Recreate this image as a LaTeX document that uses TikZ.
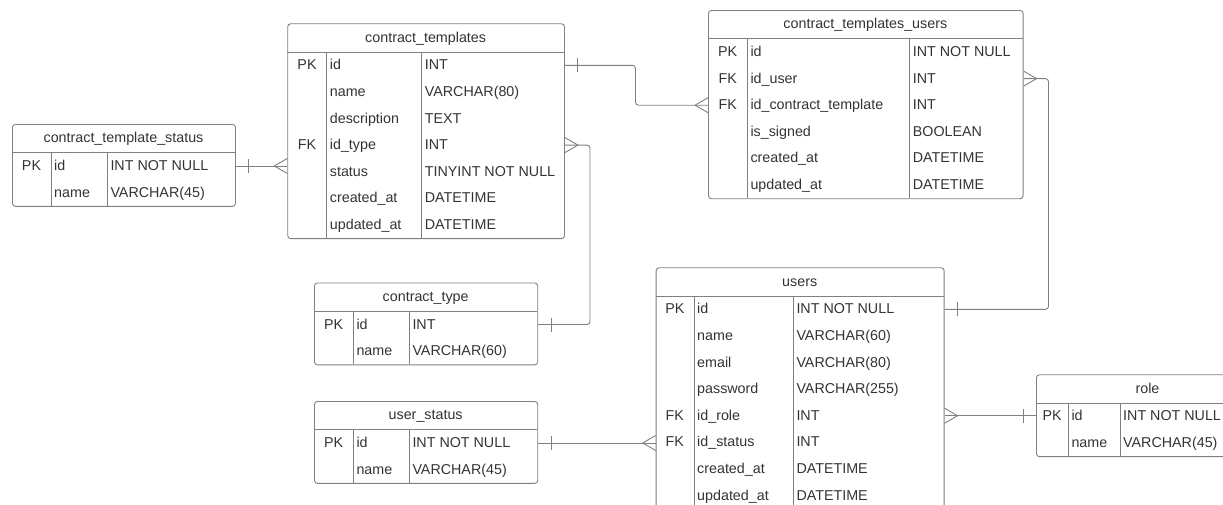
\documentclass[tikz,border=0pt]{standalone}
\usepackage{fontspec}
\setmainfont{Liberation Sans}
\usetikzlibrary{calc}
\definecolor{ln}{HTML}{808080}
\definecolor{tx}{HTML}{333333}
\tikzset{
  tbl/.style={draw=ln, line width=0.9pt, rounded corners=3pt, inner sep=0pt, anchor=north west},
  sep/.style={draw=ln, line width=0.9pt},
  conn/.style={draw=ln, line width=0.9pt},
  txt/.style={text=tx, inner sep=0pt, font=\fontsize{14.3}{16}\selectfont},
}
% #1 name, #2 left, #3 top, #4 right, #5 col1, #6 col2, #7 title, #8 rows, #9 number of rows
\newcommand{\erdtable}[9]{%
  \node[tbl, minimum width={(#4-(#2))*1pt}, minimum height={(28.7+#9*26.6)*1pt}] (#1) at (#2,#3) {};
  \draw[sep] (#2,{#3+28.7}) -- (#4,{#3+28.7});
  \draw[sep] (#5,{#3+28.7}) -- (#5,{#3+28.7+#9*26.6});
  \draw[sep] (#6,{#3+28.7}) -- (#6,{#3+28.7+#9*26.6});
  \node[txt, anchor=base] (#1-title) at ({(#2+#4)/2},{#3+14.35+4.5}) {#7};
  \foreach \k/\f/\t [count=\i] in {#8} {
    \coordinate (#1-r\i) at (#2,{#3+28.7+(\i-0.5)*26.6});
    \node[txt, anchor=base] (#1-k\i) at ({(#2+#5)/2},{#3+28.7+(\i-0.5)*26.6+4.5}) {\k};
    \node[txt, anchor=base west] (#1-f\i) at ({#5+3},{#3+28.7+(\i-0.5)*26.6+4.5}) {\f};
    \node[txt, anchor=base west] (#1-t\i) at ({#6+3},{#3+28.7+(\i-0.5)*26.6+4.5}) {\t};
  }
}
\newcommand{\barmark}[2]{\draw[conn] ($(#1)+(#2,-7)$) -- ($(#1)+(#2,7)$);}
\newcommand{\crowmark}[2]{\draw[conn] ($(#1)+(0,-7.5)$) -- ($(#1)+(#2,0)$) -- ($(#1)+(0,7.5)$);}
\begin{document}
\begin{tikzpicture}[x=1pt,y=-1pt]
\useasboundingbox (0,0) rectangle (1223,504);
\clip (0,0) rectangle (1223,504);
\fill[white] (0,0) rectangle (1223,504);

\erdtable{cts}{12}{124}{235}{51}{107.3}{contract\_template\_status}
  {PK/id/{INT NOT NULL}, {}/name/{VARCHAR(45)}}{2}

\erdtable{ct}{287.3}{23.3}{564}{326.7}{421.7}{contract\_templates}
  {PK/id/INT, {}/name/{VARCHAR(80)}, {}/description/TEXT, FK/id\_type/INT,
   {}/status/{TINYINT NOT NULL}, {}/created\_at/DATETIME, {}/updated\_at/DATETIME}{7}

\erdtable{ctu}{708}{10}{1022.7}{747.3}{909.7}{contract\_templates\_users}
  {PK/id/{INT NOT NULL}, FK/id\_user/INT, FK/id\_contract\_template/INT,
   {}/is\_signed/BOOLEAN, {}/created\_at/DATETIME, {}/updated\_at/DATETIME}{6}

\erdtable{ctype}{314}{282.5}{537.3}{353.3}{409.3}{contract\_type}
  {PK/id/INT, {}/name/{VARCHAR(60)}}{2}

\erdtable{us}{314}{401}{537.3}{353.3}{409.3}{user\_status}
  {PK/id/{INT NOT NULL}, {}/name/{VARCHAR(45)}}{2}

\erdtable{users}{655.7}{267.3}{943.7}{694}{793.3}{users}
  {PK/id/{INT NOT NULL}, {}/name/{VARCHAR(60)}, {}/email/{VARCHAR(80)},
   {}/password/{VARCHAR(255)}, FK/id\_role/INT, FK/id\_status/INT,
   {}/created\_at/DATETIME, {}/updated\_at/DATETIME}{8}

\erdtable{role}{1036}{374.3}{1259}{1068.3}{1120}{role}
  {PK/id/{INT NOT NULL}, {}/name/{VARCHAR(45)}}{2}

% connector 1: contract_template_status -> contract_templates
\coordinate (a1) at (cts.east |- cts-r1);
\coordinate (b1) at (ct.west |- cts-r1);
\draw[conn] (a1) -- (b1);
\barmark{a1}{13}
\crowmark{b1}{-13}

% connector 2: contract_templates -> contract_templates_users
\coordinate (a2) at (ct.east |- ct-r1);
\coordinate (b2) at (ctu.west |- ctu-r3);
\coordinate (k2) at (635.5,0);
\draw[conn, rounded corners=3pt] (a2) -| (k2 |- b2) -- (b2);
\barmark{a2}{13}
\crowmark{b2}{-13}

% connector 3: contract_templates -> contract_type
\coordinate (a3) at (ct.east |- ct-r4);
\coordinate (b3) at (ctype.east |- ctype-r1);
\coordinate (k3) at (590,0);
\draw[conn, rounded corners=3pt] (a3) -| (k3 |- b3) -- (b3);
\crowmark{a3}{13}
\barmark{b3}{13}

% connector 4: contract_templates_users -> users
\coordinate (a4) at (ctu.east |- ctu-r2);
\coordinate (b4) at (users.east |- users-r1);
\coordinate (k4) at (1048.5,0);
\draw[conn, rounded corners=3pt] (a4) -| (k4 |- b4) -- (b4);
\crowmark{a4}{13}
\barmark{b4}{13}

% connector 5: users -> role
\coordinate (a5) at (users.east |- users-r5);
\coordinate (b5) at (role.west |- users-r5);
\draw[conn] (a5) -- (b5);
\crowmark{a5}{13}
\barmark{b5}{-13}

% connector 6: user_status -> users
\coordinate (a6) at (us.east |- us-r1);
\coordinate (b6) at (users.west |- us-r1);
\draw[conn] (a6) -- (b6);
\barmark{a6}{13}
\crowmark{b6}{-13}
\end{tikzpicture}
\end{document}
